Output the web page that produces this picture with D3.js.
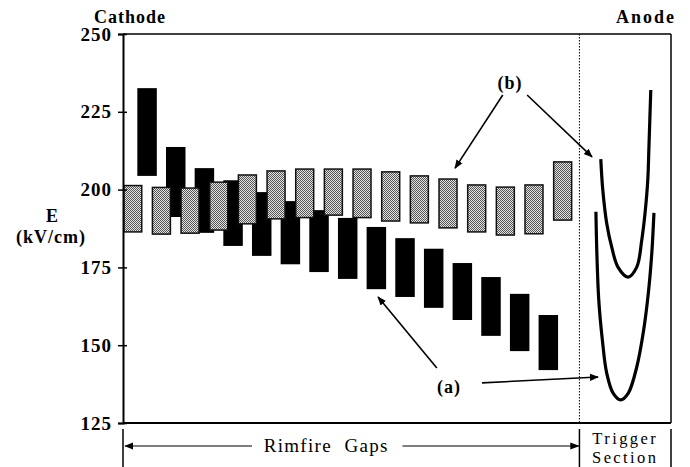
<!DOCTYPE html>
<html>
<head>
<meta charset="utf-8">
<script src="https://cdn.jsdelivr.net/npm/d3@7"></script>
<style>
  body { margin: 0; background: #fff; }
  svg { display: block; }
</style>
</head>
<body>
<svg id="chart"></svg>
<script>
// field values (kV/cm)
var yTicks = [125, 150, 175, 200, 225, 250];

// (b) stippled bars, one per rimfire gap
var grayTop    = [201.3, 200.7, 200.5, 202.4, 204.7, 206.0, 206.6, 206.6, 206.6, 205.7, 204.4, 203.4, 201.5, 200.8, 201.5, 208.9];
var grayBottom = [186.4, 185.7, 186.0, 187.0, 189.0, 190.6, 191.0, 191.8, 191.0, 189.9, 189.3, 187.7, 186.4, 185.4, 185.8, 190.2];

// (a) black bars
var blackTop    = [232.6, 213.7, 206.9, 203.0, 199.2, 196.3, 193.4, 190.9, 188.0, 184.4, 181.0, 176.4, 171.9, 166.5, 159.7];
var blackBottom = [204.4, 191.2, 186.1, 181.9, 178.7, 176.0, 173.5, 171.3, 168.0, 165.5, 162.0, 158.1, 153.0, 148.1, 142.0];

// trigger section curves (position along the column, field)
var curveAPos = [33.0, 33.06, 33.2, 33.45, 33.75, 34.2, 34.73, 35.26, 35.85, 36.3, 36.66, 36.9, 37.05];
var curveAVal = [192.9, 180.6, 164.5, 151.7, 141.1, 134.6, 132.4, 134.6, 143.0, 153.9, 166.8, 179.6, 192.5];
var curveBPos = [33.34, 33.48, 33.75, 34.1, 34.54, 35.24, 35.85, 36.2, 36.43, 36.62, 36.7, 36.83];
var curveBVal = [209.8, 199.9, 189.3, 181.6, 175.1, 171.9, 175.1, 183.8, 192.5, 203.1, 213.7, 232.0];

var sectionEdge = 31.85;
var xMax = 38.24;

var W = 690, H = 467;
var serif = '"Liberation Serif", "Times New Roman", Times, "DejaVu Serif", serif';
var svg = d3.select('#chart').attr('width', W).attr('height', H);

var x = d3.scaleLinear().domain([0, xMax]).range([123, 671]);
var y = d3.scaleLinear().domain([125, 250]).range([423, 34]);
var barW = x(1.36) - x(0);

// stipple pattern for the (b) bars
var defs = svg.append('defs');
var pat = defs.append('pattern')
    .attr('id', 'stip').attr('patternUnits', 'userSpaceOnUse')
    .attr('width', 2).attr('height', 2);
pat.append('rect').attr('width', 2).attr('height', 2).attr('fill', '#e4e4e4');
pat.append('rect').attr('width', 1).attr('height', 1).attr('fill', '#555');
pat.append('rect').attr('x', 1).attr('y', 1).attr('width', 1).attr('height', 1).attr('fill', '#555');

defs.append('marker').attr('id', 'arr')
    .attr('viewBox', '0 0 10 10').attr('refX', 9).attr('refY', 5)
    .attr('markerWidth', 9).attr('markerHeight', 9).attr('markerUnits', 'userSpaceOnUse')
    .attr('orient', 'auto')
    .append('path').attr('d', 'M0,1 L10,5 L0,9 Z').attr('fill', '#000');

function label(px, py, txt, size, bold, spacing, anchor) {
    return svg.append('text').attr('x', px).attr('y', py)
        .attr('text-anchor', anchor || 'middle')
        .style('font-family', serif)
        .style('font-size', size + 'px')
        .style('font-weight', bold ? 'bold' : 'normal')
        .style('letter-spacing', spacing + 'px')
        .attr('fill', '#000')
        .text(txt);
}

// black bars
svg.selectAll('rect.a')
    .data(blackTop)
    .enter()
    .append('rect')
    .attr('class', 'a')
    .attr('x', function(d, i) { return x(2 * i + 1); })
    .attr('y', function(d) { return y(d); })
    .attr('width', barW)
    .attr('height', function(d, i) { return y(blackBottom[i]) - y(d); })
    .attr('fill', '#000');

// stippled bars
svg.selectAll('rect.b')
    .data(grayTop)
    .enter()
    .append('rect')
    .attr('class', 'b')
    .attr('x', function(d, i) { return x(2 * i) + 0.75; })
    .attr('y', function(d) { return y(d); })
    .attr('width', barW - 1.5)
    .attr('height', function(d, i) { return y(grayBottom[i]) - y(d); })
    .attr('fill', 'url(#stip)')
    .attr('stroke', '#111')
    .attr('stroke-width', 1.5);

// trigger curves
var line = d3.line().curve(d3.curveCatmullRom.alpha(0.5));
[[curveAPos, curveAVal], [curveBPos, curveBVal]].forEach(function(c) {
    var pts = c[0].map(function(p, i) { return [x(p), y(c[1][i])]; });
    svg.append('path').attr('d', line(pts))
        .attr('fill', 'none').attr('stroke', '#000').attr('stroke-width', 3.2);
});

// frame
svg.append('line').attr('x1', x(0)).attr('x2', x(xMax)).attr('y1', y(250)).attr('y2', y(250))
    .attr('stroke', '#000').attr('stroke-width', 1.5);
svg.append('line').attr('x1', x(xMax)).attr('x2', x(xMax)).attr('y1', y(250)).attr('y2', y(125))
    .attr('stroke', '#000').attr('stroke-width', 1.5);
svg.append('line').attr('x1', x(0)).attr('x2', x(xMax)).attr('y1', y(125)).attr('y2', y(125))
    .attr('stroke', '#000').attr('stroke-width', 1.8);
svg.append('line').attr('x1', x(sectionEdge)).attr('x2', x(sectionEdge)).attr('y1', y(250)).attr('y2', y(125))
    .attr('stroke', '#000').attr('stroke-width', 1).attr('stroke-dasharray', '1.5,1.5');

// y axis
var yAxis = d3.axisLeft(y).tickValues(yTicks).tickSize(5).tickPadding(6).tickFormat(d3.format('d'));
var gy = svg.append('g').attr('transform', 'translate(' + x(0) + ',0)').call(yAxis);
gy.select('.domain').attr('stroke-width', 2);
gy.selectAll('.tick line').attr('x2', -5).attr('x1', 4).attr('stroke-width', 1.5);
gy.selectAll('.tick text')
    .style('font-family', serif)
    .style('font-size', '19px').style('font-weight', 'bold')
    .style('letter-spacing', '1px');

label(52, 222, 'E', 18, true, 0);
label(51, 243, '(kV/cm)', 18, true, 1);

label(94, 23, 'Cathode', 18, true, 1, 'start');
label(676, 23, 'Anode', 18, true, 2, 'end');

// annotations
function arrow(p0, v0, p1, v1) {
    svg.append('line').attr('x1', x(p0)).attr('y1', y(v0)).attr('x2', x(p1)).attr('y2', y(v1))
        .attr('stroke', '#000').attr('stroke-width', 1.6).attr('marker-end', 'url(#arr)');
}
label(x(22.75), y(134.6), '(a)', 18, true, 1);
arrow(21.9, 142.7, 17.8, 165.5);
arrow(25.05, 137.9, 33.15, 139.8);

label(x(27.0), y(232.4), '(b)', 18, true, 1);
arrow(26.5, 230.4, 23.17, 206.9);
arrow(28.2, 230.4, 32.73, 210.5);

// section labels under the axis
[0, sectionEdge, xMax].forEach(function(p) {
    svg.append('line').attr('x1', x(p)).attr('x2', x(p)).attr('y1', 429).attr('y2', H)
        .attr('stroke', '#000').attr('stroke-width', 1.5);
});
svg.append('line').attr('x1', x(9.0)).attr('x2', x(0.15)).attr('y1', 446).attr('y2', 446)
    .attr('stroke', '#000').attr('stroke-width', 1.2).attr('marker-end', 'url(#arr)');
svg.append('line').attr('x1', x(19.5)).attr('x2', x(sectionEdge) - 1).attr('y1', 446).attr('y2', 446)
    .attr('stroke', '#000').attr('stroke-width', 1.2).attr('marker-end', 'url(#arr)');
label(x(12.2), 452, 'Rimfire', 19, false, 1.3);
label(x(17.0), 452, 'Gaps', 19, false, 1.3);
var mid = (x(sectionEdge) + x(xMax)) / 2;
label(mid, 444, 'Trigger', 16.5, false, 2.4);
label(mid, 462.5, 'Section', 16.5, false, 2.4);
</script>
</body>
</html>
